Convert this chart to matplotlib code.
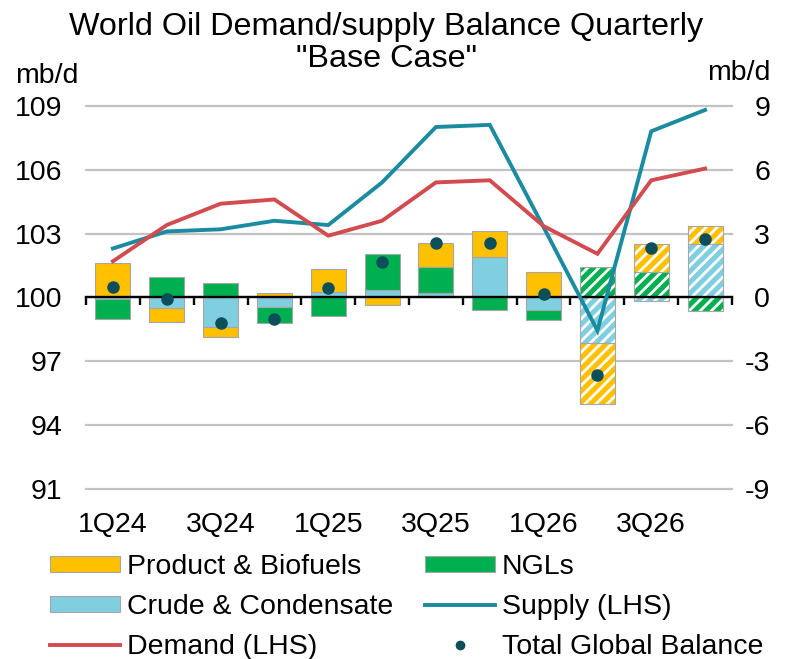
import matplotlib
matplotlib.use("Agg")
import matplotlib.pyplot as plt
from matplotlib.patches import Patch
from matplotlib.lines import Line2D
import numpy as np

# ---------------- data ----------------
quarters = ['1Q24', '2Q24', '3Q24', '4Q24', '1Q25', '2Q25',
            '3Q25', '4Q25', '1Q26', '2Q26', '3Q26', '4Q26']
shown_labels = ['1Q24', '', '3Q24', '', '1Q25', '', '3Q25', '', '1Q26', '', '3Q26', '']
product = [1.60, -0.65, -0.47, 0.20, 1.07, -0.34, 1.13, 1.20, 1.20, -2.85, 1.30, 0.87]
ngl = [-0.95, 0.95, 0.70, -0.75, -0.85, 1.69, 1.23, -0.60, -0.45, 1.45, 1.20, -0.65]
crude = [-0.05, -0.50, -1.40, -0.45, 0.28, 0.36, 0.22, 1.90, -0.60, -2.15, -0.15, 2.50]
balance = [0.50, -0.05, -1.20, -1.00, 0.45, 1.66, 2.58, 2.55, 0.15, -3.65, 2.33, 2.73]
supply = [102.3, 103.1, 103.2, 103.6, 103.4, 105.4, 108.0, 108.1, 103.3, 98.45, 107.8, 108.8]
demand = [101.7, 103.4, 104.4, 104.6, 102.9, 103.6, 105.4, 105.5, 103.35, 102.05, 105.5, 106.05]
forecast = [False] * 9 + [True] * 3
left_ticks = [91, 94, 97, 100, 103, 106, 109]
right_ticks = [-9, -6, -3, 0, 3, 6, 9]

# ---------------- style ----------------
C_PROD = '#FFC000'
C_NGL = '#00B050'
C_CRUDE = '#80CFE1'
C_SUP = '#1A8BA0'
C_DEM = '#D24B4F'
C_DOT = '#0D4E5B'
EDGE = '#A6A6A6'
FONT = 'Liberation Sans'
FS = 20.5

plt.rcParams['font.family'] = [FONT, 'DejaVu Sans']
plt.rcParams['axes.unicode_minus'] = False
plt.rcParams['hatch.linewidth'] = 2.0

fig = plt.figure(figsize=(7.87, 6.59), dpi=100)
ax = fig.add_axes([0.10928, 0.25751, 0.82083, 0.58210])
axl = ax.twinx()

x = np.arange(len(quarters))
fc = np.array(forecast)
act = ~fc
w = 0.65
n = len(quarters)

pos_base = np.zeros(n)
neg_base = np.zeros(n)
for name, vals, col in [('Crude & Condensate', crude, C_CRUDE),
                        ('NGLs', ngl, C_NGL),
                        ('Product & Biofuels', product, C_PROD)]:
    v = np.array(vals, dtype=float)
    bottom = np.where(v >= 0, pos_base, neg_base)
    ax.bar(x[act], v[act], bottom=bottom[act], width=w, color=col,
           edgecolor=EDGE, linewidth=0.8, zorder=2)
    ax.bar(x[fc], v[fc], bottom=bottom[fc], width=w, color=col,
           edgecolor='white', hatch='///', linewidth=0, zorder=2)
    ax.bar(x[fc], v[fc], bottom=bottom[fc], width=w, fill=False,
           edgecolor=EDGE, linewidth=0.8, zorder=2.1)
    pos_base += np.where(v >= 0, v, 0)
    neg_base += np.where(v < 0, v, 0)

ax.plot(x, balance, 'o', color=C_DOT, markersize=8, zorder=4)

axl.plot(x, supply, color=C_SUP, lw=2.8, solid_joinstyle='miter', zorder=3)
axl.plot(x, demand, color=C_DEM, lw=2.8, solid_joinstyle='miter', zorder=3)

# axes limits
ax.set_xlim(-0.5, n - 0.5)
ax.set_ylim(-9, 9)
axl.set_ylim(91, 109)

# balance axis (right)
ax.yaxis.tick_right()
ax.set_yticks(right_ticks)
ax.set_yticklabels([str(t) for t in right_ticks])
ax.tick_params(axis='y', length=0, labelsize=FS, pad=27.4)
for t in ax.get_yticklabels():
    t.set_horizontalalignment('right')
ax.set_axisbelow(True)
ax.grid(axis='y', color='#C3C3C3', lw=1.6)
for gl in ax.get_ygridlines():
    gl.set_clip_on(False)

# level axis (left)
axl.yaxis.tick_left()
axl.set_yticks(left_ticks)
axl.set_yticklabels([str(t) for t in left_ticks])
axl.tick_params(axis='y', length=0, labelsize=FS, pad=17.3)

# x axis: zero line with boundary ticks on ax, labels on axl at bottom
ax.set_xticks(x)
ax.set_xticks(np.arange(-0.5, n, 1.0), minor=True)
ax.set_xticklabels(shown_labels)
ax.spines['bottom'].set_position(('data', 0))
ax.spines['bottom'].set_color('black')
ax.spines['bottom'].set_linewidth(1.7)
ax.spines['bottom'].set_zorder(3)
ax.tick_params(axis='x', which='major', length=0, labelbottom=False)
ax.tick_params(axis='x', which='minor', direction='out', length=5.5,
               width=1.7, color='black', labelbottom=False)
for s in ['top', 'left', 'right']:
    ax.spines[s].set_visible(False)

axl.xaxis.set_visible(True)
axl.tick_params(axis='x', which='both', length=0, labelbottom=True,
                labelsize=FS, pad=16.5)
for s in ['top', 'left', 'right', 'bottom']:
    axl.spines[s].set_visible(False)

# texts
fig.text(386 / 787, 1 - 35 / 659, 'World Oil Demand/supply Balance Quarterly',
         ha='center', va='baseline', fontsize=23.3)
fig.text(386 / 787, 1 - 66.7 / 659, '"Base Case"',
         ha='center', va='baseline', fontsize=23.3)
fig.text(15 / 787, 1 - 83 / 659, 'mb/d', ha='left', va='baseline', fontsize=FS)
fig.text(770 / 787, 1 - 80 / 659, 'mb/d', ha='right', va='baseline', fontsize=FS)

# legend
handles = [
    Patch(facecolor=C_PROD, edgecolor=EDGE, linewidth=0.8),
    Patch(facecolor=C_CRUDE, edgecolor=EDGE, linewidth=0.8),
    Line2D([], [], color=C_DEM, lw=2.8),
    Patch(facecolor=C_NGL, edgecolor=EDGE, linewidth=0.8),
    Line2D([], [], color=C_SUP, lw=2.8),
    Line2D([], [], color=C_DOT, marker='o', linestyle='none', markersize=6),
]
labels = ['Product & Biofuels', 'Crude & Condensate', 'Demand (LHS)',
          'NGLs', 'Supply (LHS)', 'Total Global Balance']
fig.legend(handles, labels, ncol=2, loc='upper left',
           bbox_to_anchor=(50 / 787, 1 - 554 / 659), frameon=False,
           fontsize=FS, handlelength=2.46, handleheight=0.46,
           handletextpad=0.25, columnspacing=1.1, labelspacing=0.49,
           borderpad=0, borderaxespad=0)

fig.savefig('out.png', dpi=100)
